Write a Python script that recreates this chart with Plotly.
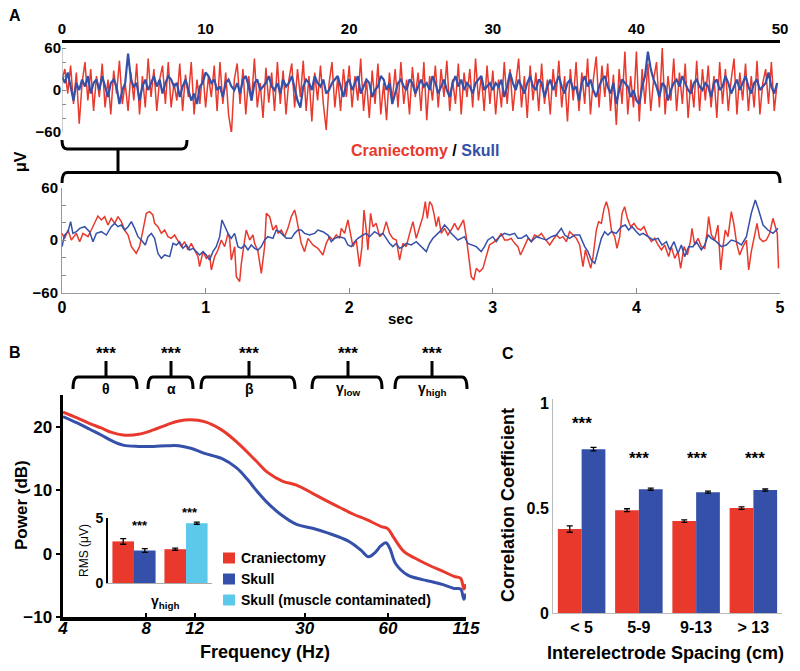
import numpy as np
import plotly.graph_objects as go

W, H = 800, 671
RED = "#E8392C"
BLUE = "#3550A8"
CYAN = "#5CC8EA"
FONT = "Arial, Liberation Sans, sans-serif"

# ---------------- Panel A: 50 s overview (0.2 s steps) ----------------
top_step = 0.2
top_red = [
    15, 30, -5, 35, -20, 25, -48, 10, 40, -15, 30, -30, 20, -10, 38, -25, 15, -35, 28, -5, 42, -20, 10, -30, 25,
    -15, 38, -35, 20, -25, 45, -10, 30, -30, 15, 35, -20, 40, -25, 10, -15, 38, -30, 22, -10, 40, -35, 15, -20, 30,
    -25, 20, -10, 35, -30, 40, -20, 25, -35, -62, 15, 38, -20, 30, -35, 20, -15, 45, -25, 10, -40, 32, -18, 25, -30,
    40, -20, 28, -35, 15, 38, -25, 30, -10, 42, -30, 20, -45, 25, -15, 35, -20, -57, 10, 40, -25, 18, -30, 30, -10,
    35, -25, 20, -15, 45, -30, 15, -40, 28, -20, 38, -35, 10, -43, 25, -15, 30, -25, 40, -20, 15, -35, 33, -10, 25,
    -30, 40, -43, 20, -15, 35, -25, 30, -10, 42, -30, 15, -20, 38, -35, 25, -10, 30, -25, 45, -15, 20, -30, 35, -20,
    28, -35, 15, -25, 40, -20, 30, -30, 10, 45, -25, 20, -40, 35, -15, 25, -30, 38, -20, 15, -35, 30, -10, 42, -25,
    20, -45, 30, -15, 40, -30, 25, -20, 45, -35, 15, 48, -25, 35, -10, 38, -30, 22, -50, 30, -20, 55, -35, 20, -25,
    55, -45, 30, -20, 38, -30, 15, 40, -25, 60, -35, 20, -15, 45, -30, 25, -20, 38, -40, 15, -25, 42, -30, 30, -15,
    35, -25, 20, -40, 40, -20, 30, -30, 15, 45, -35, 25, -15, 38, -30, 20, -25, 42, -35, 10, 30, -20, 40, -30, 10,
]
top_blue = [
    20, 10, 25, 5, -15, 10, 0, 15, 5, 20, -5, 10, 15, 0, 20, 5, -10, 10, 15, 5, -20, 0, 10, 52, 15,
    5, 10, -15, 5, 15, 0, 10, 20, 5, 15, -5, 10, 20, 15, 5, 10, -10, 5, 15, 0, -15, -5, -20, 5, 10,
    25, 20, 10, 15, 0, 5, -10, 10, 15, 5, 0, 10, -5, 15, 20, 5, -15, 10, 15, 0, 5, 10, 20, 5, 0,
    10, -5, 15, 5, 10, 20, 0, -15, -25, 5, 15, 10, 0, 20, 10, 5, 15, -5, 0, 10, 15, 20, 5, -10, 10,
    15, 0, 10, 20, -5, 5, 15, 10, -10, 0, 5, 20, 15, 0, 10, -20, -5, 10, 15, 5, 0, 15, 10, -5, 5,
    15, 5, 10, 0, 20, 10, -5, 5, 15, 0, -10, 10, 20, 5, 15, 0, 10, 5, -5, 10, 15, 20, 0, 5, 10,
    0, 10, 5, 15, -10, 5, 25, 10, 0, 15, 5, -5, 10, 20, 5, 0, 15, 10, -10, 5, 15, 0, 10, 20, 5,
    -5, 10, 15, 0, 5, -15, 10, 20, 5, 15, 0, -10, 5, 15, 20, 5, -5, 10, -20, 0, 15, 10, 5, -10, 0,
    -15, -20, 5, 20, 55, 30, 15, 5, -10, 10, 5, -15, 0, 10, 15, 5, 20, 10, 0, -5, 10, 15, 5, 0, 10,
    5, -10, 10, 15, 0, 5, 20, 10, -5, 5, 15, 0, 10, 20, 5, -5, 10, 15, 0, 5, 10, 25, 5, -5, 10,
]
top_ticks = [0, 10, 20, 30, 40, 50]
uv_ticks = [-60, 0, 60]
uv_minor = [-40, -20, 20, 40]

# ---------------- Panel A: 5 s zoom ----------------
zoom_red_t = [
    0.0, 0.018, 0.042, 0.065, 0.10, 0.123, 0.146, 0.181, 0.204, 0.227, 0.25, 0.274, 0.297, 0.32, 0.343, 0.367,
    0.39, 0.413, 0.436, 0.46, 0.483, 0.517, 0.54, 0.564, 0.587, 0.61, 0.633, 0.645, 0.668, 0.692, 0.715, 0.738,
    0.761, 0.784, 0.808, 0.831, 0.854, 0.877, 0.90, 0.924, 0.947, 0.958, 0.982, 1.005, 1.028, 1.04, 1.063, 1.086,
    1.109, 1.133, 1.156, 1.167, 1.179, 1.202, 1.214, 1.237, 1.249, 1.272, 1.283, 1.307, 1.33, 1.341, 1.365, 1.388,
    1.411, 1.423, 1.446, 1.469, 1.492, 1.504, 1.527, 1.55, 1.573, 1.597, 1.62, 1.631,
    1.666, 1.689, 1.713, 1.747, 1.782, 1.817, 1.84, 1.863, 1.887, 1.91, 1.933, 1.945, 1.968, 1.991, 2.01, 2.026,
    2.049, 2.072, 2.089, 2.103, 2.119, 2.13, 2.149, 2.165, 2.188, 2.212, 2.235, 2.258, 2.281, 2.304, 2.328, 2.351,
    2.374, 2.397, 2.421, 2.444, 2.467, 2.49, 2.513, 2.53, 2.544, 2.56, 2.576, 2.59, 2.606, 2.622, 2.641, 2.664,
    2.687, 2.71, 2.734, 2.757, 2.78, 2.796, 2.815, 2.831, 2.85, 2.868, 2.885, 2.908, 2.931, 2.954, 2.977, 3.012,
    3.036, 3.059, 3.082, 3.105, 3.128, 3.152, 3.175, 3.193, 3.221, 3.245, 3.268, 3.291, 3.314,
    3.338, 3.361, 3.396, 3.419, 3.443, 3.466, 3.489, 3.512, 3.535, 3.559, 3.582, 3.605, 3.628, 3.645, 3.663, 3.682,
    3.698, 3.721, 3.737, 3.756, 3.775, 3.791, 3.807, 3.826, 3.849, 3.865, 3.884, 3.90, 3.918, 3.937, 3.96, 3.983,
    4.007, 4.03, 4.053, 4.076, 4.104, 4.127, 4.151, 4.174, 4.197, 4.225, 4.243, 4.267, 4.29, 4.308, 4.332, 4.355,
    4.378, 4.387, 4.406, 4.429, 4.452, 4.476, 4.494, 4.503, 4.522, 4.545, 4.568, 4.587, 4.603, 4.619, 4.638, 4.661,
    4.68, 4.698, 4.719, 4.742, 4.766, 4.782, 4.80, 4.824, 4.84, 4.858, 4.882, 4.905, 4.928, 4.951, 4.968, 4.981, 4.99,
]
zoom_red_v = [
    7.6, 1.9, 11.4, 0, 7.6, -1.9, 7.6, 3.8, 11.4, 19, 27.4, 22.9, 26.7, 17.1, 24.8, 19,
    26.7, 21, 11.4, 5.7, -7.6, -15.2, -7.6, 11.4, 30.5, 32.4, 28.6, 19, 15.2, 7.6, 11.4, 3.8,
    1.9, 5.7, -1.9, -7.6, -1.9, -11.4, -3.8, -11.4, -19, -30.5, -13.3, -21, -17.1, -34.3, -19, -11.4,
    0, -7.6, 7.6, 1.9, -22.9, -7.6, -41.9, -47.6, -26.7, 0, 11.4, 0, 5.7, -3.8, -13.3, -38.1,
    -7.6, 30.5, 26.7, 11.4, 17.1, 7.6, 11.4, 3.8, 13.3, 26.7, 34.3, 26.7,
    -3.8, -13.3, 1.9, -5.7, -9.5, -17.1, -3.8, 3.8, 0, 5.7, 1.9, 13.3, 7.6, 22.9, 5.7, -7.6,
    0, -30.5, -7.6, 34.3, 11.4, -11.4, 30.5, 15.2, 19, 3.8, 7.6, 21, 7.6, 1.9, 0, -22.9,
    -3.8, -7.6, 7.6, 21, 1.9, 15.2, 26.7, 43.8, 24.8, 43.8, 40, 30.5, 15.2, 26.7, 7.6, 13.3,
    5.7, 11.4, 19, 11.4, 19, 22.9, 3.8, -15.2, -41.9, -45.7, -32.4, -36.2, -32.4, -19, -5.7, -1.9,
    1.9, 7.6, 0, 0, 1.9, -3.8, -7.6, -17.1, -7.6, 1.9, -1.9, 5.7, 3.8,
    7.6, 1.9, -5.7, 0, 5.7, 1.9, 3.8, -1.9, 9.5, 5.7, 1.9, -5.7, -30.5, -11.4, -22.9, -32.4,
    -19, 11.4, 21, 19, 36.2, 43.8, 34.3, 11.4, 3.8, -9.5, 3.8, 30.5, 38.1, 24.8, 15.2, 19,
    13.3, 11.4, 15.2, 5.7, -1.9, 1.9, -5.7, -11.4, -5.7, -19, -7.6, -21, -13.3, -32.4, -7.6, -17.1,
    0, 13.3, -5.7, 1.9, -7.6, -9.5, 11.4, 26.7, 5.7, 0, 17.1, -34.3, -7.6, 11.4, 3.8, 32.4,
    17.1, -3.8, -17.1, -7.6, 0, -34.3, -13.3, 7.6, 19, 1.9, -1.9, 0, 7.6, 24.8, 13.3, 7.6, -32.4,
]
zoom_blue_t = [
    0.0, 0.018, 0.042, 0.06, 0.076, 0.10, 0.123, 0.158, 0.192, 0.216, 0.239, 0.274, 0.309, 0.343, 0.367, 0.39,
    0.413, 0.436, 0.46, 0.483, 0.506, 0.529, 0.552, 0.58, 0.599, 0.622, 0.645, 0.668, 0.692, 0.715, 0.75, 0.773,
    0.796, 0.819, 0.842, 0.866, 0.889, 0.912, 0.935, 0.958, 0.982, 1.005, 1.028, 1.051, 1.074, 1.098, 1.114, 1.133,
    1.156, 1.179, 1.202, 1.225, 1.249, 1.272, 1.295, 1.318, 1.341, 1.365, 1.388, 1.411, 1.434, 1.469, 1.492, 1.515,
    1.539, 1.562, 1.597, 1.62, 1.643,
    1.666, 1.689, 1.724, 1.759, 1.782, 1.817, 1.852, 1.875, 1.898, 1.933, 1.968, 1.991, 2.014, 2.038, 2.061, 2.096,
    2.119, 2.142, 2.177, 2.212, 2.235, 2.258, 2.281, 2.304, 2.328, 2.351, 2.374, 2.397, 2.432, 2.467, 2.502, 2.537,
    2.56, 2.583, 2.618, 2.641, 2.664, 2.687, 2.71, 2.734, 2.757, 2.78, 2.803, 2.826, 2.85, 2.885, 2.919, 2.942,
    2.966, 3.0, 3.024, 3.047, 3.082, 3.117, 3.152, 3.175, 3.198, 3.233, 3.268, 3.303,
    3.338, 3.373, 3.408, 3.443, 3.477, 3.501, 3.535, 3.57, 3.605, 3.64, 3.663, 3.686, 3.71, 3.733, 3.756, 3.779,
    3.802, 3.826, 3.86, 3.895, 3.923, 3.946, 3.97, 4.0, 4.023, 4.046, 4.081, 4.116, 4.151, 4.178, 4.209, 4.232,
    4.262, 4.29, 4.313, 4.336, 4.364, 4.394, 4.417, 4.452, 4.476, 4.499, 4.522, 4.557, 4.592, 4.626, 4.661, 4.696,
    4.731, 4.766, 4.80, 4.828, 4.851, 4.882, 4.916, 4.951, 4.986,
]
zoom_blue_v = [
    -7.6, 5.7, 9.5, 21, 7.6, 9.5, 13.3, 15.2, 9.5, -1.9, 7.6, 9.5, 5.7, 15.2, 19, 15.2,
    17.1, 11.4, 15.2, 21, 13.3, 3.8, 0, -5.7, 3.8, 7.6, 1.9, -15.2, -21, -17.1, -19, -3.8,
    -5.7, -1.9, -9.5, -5.7, -11.4, -9.5, -13.3, -17.1, -13.3, -17.1, -22.9, -13.3, -7.6, 3.8, 22.9, 15.2,
    7.6, 1.9, 7.6, -7.6, -9.5, -5.7, -11.4, -5.7, -9.5, -11.4, -7.6, 0, 3.8, 1.9, 11.4, 9.5,
    5.7, 1.9, 1.9, 7.6, 11.4,
    11.4, 7.6, 5.7, 7.6, 11.4, 9.5, 5.7, -1.9, 1.9, 3.8, 1.9, -5.7, -7.6, -1.9, 1.9, 5.7,
    7.6, 3.8, 9.5, 5.7, 7.6, 1.9, -3.8, -7.6, -3.8, -9.5, -7.6, -3.8, -5.7, -1.9, -7.6, -13.3,
    -3.8, 1.9, 7.6, 11.4, 17.1, 13.3, 7.6, 3.8, 0, 1.9, 3.8, -3.8, -5.7, -7.6, -13.3, -7.6,
    0, 3.8, -1.9, 3.8, 7.6, 5.7, 7.6, 1.9, 1.9, 5.7, -1.9, 3.8,
    1.9, 0, 3.8, 5.7, 13.3, 5.7, 1.9, 5.7, 5.7, -7.6, -13.3, -22.9, -26.7, -13.3, 1.9, 9.5,
    5.7, 9.5, 7.6, 15.2, 17.1, 11.4, 15.2, 9.5, 5.7, 7.6, 3.8, 0, 1.9, -5.7, -1.9, -11.4,
    -1.9, -15.2, -5.7, -19, -7.6, -7.6, -1.9, -11.4, -5.7, 5.7, 1.9, -1.9, -7.6, -5.7, 0, -1.9,
    -5.7, 3.8, 30.5, 45.7, 34.3, 17.1, 11.4, 7.6, 13.3,
]
zoom_ticks = [0, 1, 2, 3, 4, 5]

# ---------------- Panel B: power spectra ----------------
freq_red = [4, 4.5, 5, 5.5, 6, 6.6, 7.5, 8.5, 9.5, 10.5, 11.6, 13, 15, 17, 20, 22, 25, 28, 32, 36, 40, 45,
            50, 56.5, 60, 63, 68.6, 75, 86, 95, 104, 110, 113, 115]
power_red = [22.3, 21.4, 20.5, 19.8, 19.1, 18.7, 18.8, 19.5, 20.3, 20.9, 21.1, 20.8, 19.5, 17.6, 14.6, 12.8,
             11.4, 10.8, 9.5, 8.3, 7.3, 6.2, 5.4, 4.3, 3.9, 2.5, 0.3, -0.7, -2.0, -2.8, -3.6, -3.9, -5.6, -4.8]
freq_blue = [4, 4.5, 5, 5.5, 6, 6.6, 7.5, 8.5, 9.5, 10.5, 11.6, 13, 15, 17, 18.6, 20, 22, 24.5, 28, 32, 36,
             43, 48, 51, 54, 56.5, 59, 61, 64, 70.8, 80, 86, 95, 104, 110, 113, 115]
power_blue = [21.6, 20.6, 19.6, 18.7, 17.8, 17.1, 16.9, 16.9, 17.0, 17.0, 16.6, 15.8, 15.0, 13.5, 11.7, 10.0,
              8.0, 6.2, 4.6, 4.0, 3.3, 2.0, 0.5, -0.5, 0.2, 1.2, 1.7, 0.8, -1.6, -3.4, -4.1, -4.4, -4.9, -5.5,
              -5.6, -7.2, -6.3]
freq_ticks = [4, 8, 12, 30, 60, 115]
power_ticks = [-10, 0, 10, 20]
bands = ["θ", "α", "β", "γ<sub>low</sub>", "γ<sub>high</sub>"]

# inset: gamma-high RMS
inset_groups = ["pair1", "pair2"]
rms_cran = [3.2, 2.6]
rms_cran_err = [0.22, 0.08]
rms_skull = [2.5, 4.6]
rms_skull_err = [0.15, 0.08]
rms_skull_colors = [BLUE, CYAN]
legend_labels = ["Craniectomy", "Skull", "Skull (muscle contaminated)"]
legend_colors = [RED, BLUE, CYAN]

# ---------------- Panel C: correlation ----------------
spacing = ["< 5", "5-9", "9-13", "> 13"]
corr_cran = [0.40, 0.49, 0.438, 0.50]
corr_cran_err = [0.015, 0.007, 0.006, 0.006]
corr_skull = [0.781, 0.59, 0.576, 0.586]
corr_skull_err = [0.008, 0.005, 0.005, 0.005]


def PX(x):
    return x / W


def PY(y):
    return 1 - y / H


fig = go.Figure()

t_top = [i * top_step for i in range(len(top_red))]
fig.add_trace(go.Scatter(x=t_top, y=top_red, mode="lines", line=dict(color=RED, width=1.5),
                         xaxis="x", yaxis="y", showlegend=False))
fig.add_trace(go.Scatter(x=t_top, y=top_blue, mode="lines", line=dict(color=BLUE, width=2.2),
                         xaxis="x", yaxis="y", showlegend=False))
fig.add_trace(go.Scatter(x=zoom_red_t, y=zoom_red_v, mode="lines", line=dict(color=RED, width=1.5),
                         xaxis="x2", yaxis="y2", showlegend=False))
fig.add_trace(go.Scatter(x=zoom_blue_t, y=zoom_blue_v, mode="lines", line=dict(color=BLUE, width=1.5),
                         xaxis="x2", yaxis="y2", showlegend=False))
fig.add_trace(go.Scatter(x=freq_red, y=power_red, mode="lines", line=dict(color=RED, width=3, shape="spline"),
                         xaxis="x3", yaxis="y3", showlegend=False))
fig.add_trace(go.Scatter(x=freq_blue, y=power_blue, mode="lines", line=dict(color=BLUE, width=3, shape="spline"),
                         xaxis="x3", yaxis="y3", showlegend=False))

err_style = dict(type="data", color="black", thickness=1.3, width=3)
fig.add_trace(go.Bar(x=inset_groups, y=rms_cran, marker=dict(color=RED, line=dict(width=0)),
                     error_y=dict(array=rms_cran_err, **err_style), xaxis="x4", yaxis="y4", showlegend=False))
fig.add_trace(go.Bar(x=inset_groups, y=rms_skull, marker=dict(color=rms_skull_colors, line=dict(width=0)),
                     error_y=dict(array=rms_skull_err, **err_style), xaxis="x4", yaxis="y4", showlegend=False))
fig.add_trace(go.Bar(x=spacing, y=corr_cran, marker=dict(color=RED, line=dict(width=0)),
                     error_y=dict(array=corr_cran_err, **err_style), xaxis="x5", yaxis="y5", showlegend=False))
fig.add_trace(go.Bar(x=spacing, y=corr_skull, marker=dict(color=BLUE, line=dict(width=0)),
                     error_y=dict(array=corr_skull_err, **err_style), xaxis="x5", yaxis="y5", showlegend=False))

bold = dict(family=FONT, color="black", weight="bold")
base_ax = dict(showgrid=False, zeroline=False, automargin=False)
minor_in = dict(tickvals=uv_minor, ticks="inside", ticklen=4, tickcolor="#888", showgrid=False)

fig.update_layout(
    width=W, height=H, margin=dict(l=0, r=0, t=0, b=0, pad=0, autoexpand=False),
    paper_bgcolor="white", plot_bgcolor="white",
    barmode="group", bargap=0.17, bargroupgap=0,
    font=dict(family=FONT),
    xaxis=dict(**base_ax, domain=[PX(62), PX(780)], range=[0, 50], side="top", anchor="y",
               showline=True, linecolor="black", linewidth=2.5, ticks="",
               tickvals=top_ticks, tickfont=dict(**bold, size=15)),
    yaxis=dict(**base_ax, domain=[PY(132), PY(42.5)], range=[-60, 68], anchor="x",
               tickvals=uv_ticks, minor=minor_in,
               ticks="inside", ticklen=4, tickcolor="#888", tickfont=dict(**bold, size=15), showline=False),
    xaxis2=dict(**base_ax, domain=[PX(62), PX(780)], range=[0, 5], anchor="y2",
                showline=True, linecolor="#999", linewidth=1, ticks="inside", ticklen=5, tickcolor="#888",
                tickvals=zoom_ticks, tickfont=dict(**bold, size=16)),
    yaxis2=dict(**base_ax, domain=[PY(292.5), PY(187.5)], range=[-60, 60], anchor="x2",
                showline=True, linecolor="#999", linewidth=1,
                tickvals=uv_ticks, minor=minor_in,
                ticks="inside", ticklen=4, tickcolor="#888", tickfont=dict(**bold, size=15)),
    xaxis3=dict(**base_ax, type="log", domain=[PX(63), PX(466)], range=[np.log10(4), np.log10(115)],
                anchor="y3", showline=True, linecolor="black", linewidth=3.5,
                ticks="inside", ticklen=4, tickwidth=2, tickcolor="black", ticklabelstandoff=-7,
                tickvals=freq_ticks, ticktext=[str(v) for v in freq_ticks],
                tickfont=dict(**bold, size=17, style="italic")),
    yaxis3=dict(**base_ax, domain=[PY(617), PY(395)], range=[-10, 25], anchor="x3",
                showline=True, linecolor="black", linewidth=3.5,
                ticks="outside", ticklen=4, tickwidth=2, tickcolor="black",
                tickvals=power_ticks, tickfont=dict(**bold, size=17)),
    xaxis4=dict(**base_ax, domain=[PX(108), PX(212)], anchor="y4", showticklabels=False,
                showline=True, linecolor="#aaa", linewidth=1, ticks=""),
    yaxis4=dict(**base_ax, domain=[PY(583), PY(518)], range=[0, 5], anchor="x4",
                showline=True, linecolor="black", linewidth=2, ticks="",
                tickvals=[0, 5], tickfont=dict(**bold, size=14)),
    xaxis5=dict(**base_ax, domain=[PX(553), PX(782)], anchor="y5",
                showline=True, linecolor="#bbb", linewidth=1, ticks="",
                tickfont=dict(**bold, size=16)),
    yaxis5=dict(**base_ax, domain=[PY(613), PY(399)], range=[0, 1.02], anchor="x5",
                showline=True, linecolor="#bbb", linewidth=1, ticks="",
                tickvals=[0, 0.5, 1], ticktext=["0", "0.5", "1"], tickfont=dict(**bold, size=16)),
)

# ---------- decorations: brackets ----------
shapes = []


def bracket(x1, x2, yline, yend, r=5):
    return ("M {a},{b} Q {a},{c} {d},{c} L {e},{c} Q {f},{c} {f},{b}".format(
        a=PX(x1), b=PY(yend), c=PY(yline), d=PX(x1 + r), e=PX(x2 - r), f=PX(x2)))


line_blk = dict(color="black", width=3)
shapes.append(dict(type="path", xref="paper", yref="paper", path=bracket(62, 187, 149, 140), line=line_blk))
shapes.append(dict(type="path", xref="paper", yref="paper", path=bracket(62, 780, 172.5, 183), line=line_blk))
shapes.append(dict(type="line", xref="paper", yref="paper", x0=PX(118), x1=PX(118), y0=PY(149), y1=PY(172.5),
                   line=line_blk))
shapes.append(dict(type="line", xref="x", yref="y", x0=0, x1=0, y0=-60, y1=60, line=dict(color="#999", width=1)))

band_pos = [(73, 137, 106), (148, 193, 171), (201, 295, 249), (312, 382, 348), (395, 467, 432)]
for (a, b, m) in band_pos:
    shapes.append(dict(type="path", xref="paper", yref="paper", path=bracket(a, b, 377, 389), line=line_blk))
    shapes.append(dict(type="line", xref="paper", yref="paper", x0=PX(m), x1=PX(m), y0=PY(377), y1=PY(361),
                       line=line_blk))

legend_y = [558, 579, 600]
for ly, col in zip(legend_y, legend_colors):
    shapes.append(dict(type="rect", xref="paper", yref="paper", x0=PX(223), x1=PX(235),
                       y0=PY(ly + 5.5), y1=PY(ly - 5.5), fillcolor=col, line=dict(width=0)))

fig.update_layout(shapes=shapes)

# ---------- text ----------
ann = []


def T(x, y, text, size=15, angle=0, color="black", xanchor="center", weight="bold", style="normal"):
    ann.append(dict(x=PX(x), y=PY(y), xref="paper", yref="paper", text=text, showarrow=False,
                    xanchor=xanchor, yanchor="middle", textangle=angle,
                    font=dict(family=FONT, size=size, color=color, weight=weight, style=style)))


T(15, 15, "A", 16)
T(15, 352, "B", 16)
T(508, 353, "C", 16)
T(20, 162, "μV", 16, angle=-90)
T(425, 150, "<span style='color:%s'>Craniectomy</span> / <span style='color:%s'>Skull</span>" % (RED, BLUE), 16)
T(400, 318, "sec", 15)

for (a, b, m), lab in zip(band_pos, bands):
    T(m, 353, "***", 17)
    T(m, 389, lab, 14)

T(21, 505, "Power (dB)", 17, angle=-90)
T(265, 652, "Frequency (Hz)", 18)

T(140, 525, "***", 13)
T(190, 512, "***", 13)
T(84, 551, "RMS (μV)", 12, angle=-90, weight="normal")
T(165, 602, "γ<sub>high</sub>", 14)
for ly, lab in zip(legend_y, legend_labels):
    T(239, ly, lab, 14, xanchor="left")

c_centers = [582, 639, 697, 755]
c_star_y = [423, 458, 458, 458]
for cx, cy in zip(c_centers, c_star_y):
    T(cx, cy, "***", 17)
T(508, 505, "Correlation Coefficient", 18, angle=-90)
T(665, 653, "Interelectrode Spacing (cm)", 18)

fig.update_layout(annotations=ann)

fig.write_html("out.html", config={"displayModeBar": False, "staticPlot": True},
               post_script="document.body.style.margin='0';document.body.style.padding='0';"
                           "document.body.style.overflow='hidden';")
